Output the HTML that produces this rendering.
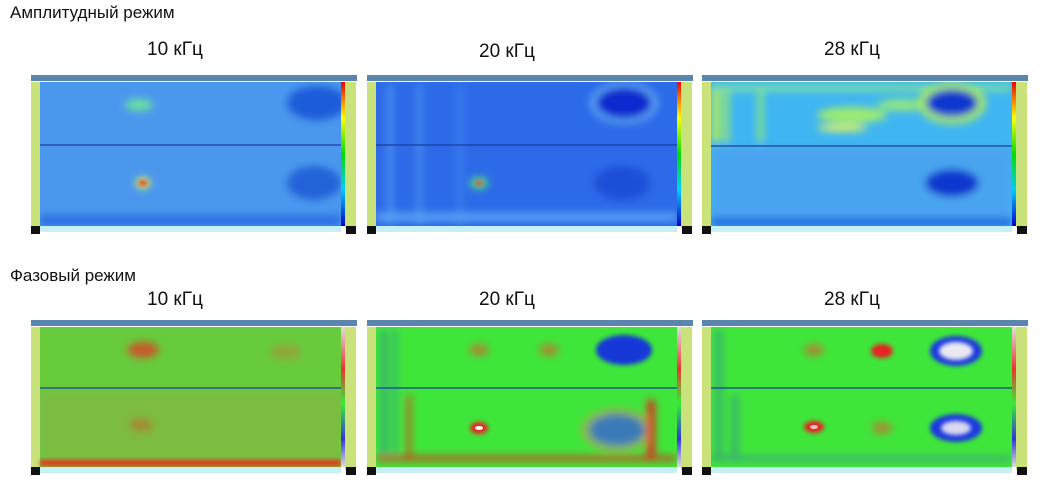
<!DOCTYPE html>
<html><head><meta charset="utf-8"><style>
body{margin:0;width:1040px;height:482px;background:#fff;position:relative;overflow:hidden;font-family:"Liberation Sans",sans-serif}
.t{position:absolute;font-size:17px;color:#111}
.l{position:absolute;font-size:19px;color:#111}
svg.p{position:absolute}
</style></head><body>
<svg width="0" height="0" style="position:absolute"><defs>
<filter id="b4" x="-50%" y="-50%" width="200%" height="200%"><feGaussianBlur stdDeviation="4"/></filter>
<filter id="b2" x="-50%" y="-50%" width="200%" height="200%"><feGaussianBlur stdDeviation="2"/></filter>
<clipPath id="cp"><rect x="9" y="7" width="301" height="144"/></clipPath>
<linearGradient id="cbA" x1="0" y1="0" x2="0" y2="1"><stop offset="0" stop-color="#e00"/><stop offset=".25" stop-color="#ff0"/><stop offset=".5" stop-color="#0d0"/><stop offset=".75" stop-color="#0cf"/><stop offset="1" stop-color="#00c"/></linearGradient>
<linearGradient id="cbP" x1="0" y1="0" x2="0" y2="1"><stop offset="0" stop-color="#ddd"/><stop offset=".3" stop-color="#e33"/><stop offset=".55" stop-color="#3e3"/><stop offset=".8" stop-color="#33d"/><stop offset="1" stop-color="#ddd"/></linearGradient>
</defs></svg>

<div class="t" style="left:10px;top:3px">Амплитудный режим</div>
<div class="l" style="left:147px;top:39px">10 кГц</div>
<div class="l" style="left:479px;top:41px">20 кГц</div>
<div class="l" style="left:824px;top:39px">28 кГц</div>
<div class="t" style="left:10px;top:266px">Фазовый режим</div>
<div class="l" style="left:147px;top:289px">10 кГц</div>
<div class="l" style="left:479px;top:289px">20 кГц</div>
<div class="l" style="left:824px;top:289px">28 кГц</div>

<!-- Amplitude 10 -->
<svg class="p" style="left:31px;top:75px" width="326" height="160">
<rect x="0" y="0" width="326" height="6" fill="#5a86ad"/>
<rect x="0" y="7" width="9" height="146" fill="#c9e27a"/>
<rect x="9" y="7" width="301" height="144" fill="#4a98ee"/>
<g filter="url(#b4)" clip-path="url(#cp)">
<rect x="9" y="140" width="301" height="11" fill="#2a6ee4"/>
<ellipse cx="286" cy="28" rx="30" ry="17" fill="#1d5cd8"/>
<ellipse cx="283" cy="108" rx="27" ry="17" fill="#2464d8"/>
<ellipse cx="108" cy="30" rx="14" ry="6" fill="#6ae0a0"/>
<ellipse cx="112" cy="108" rx="7" ry="5" fill="#ff3"/>
</g>
<ellipse cx="112" cy="108" rx="4" ry="2.5" fill="#e22" filter="url(#b2)"/>
<line x1="9" y1="70" x2="310" y2="70" stroke="#1a3f9a" stroke-width="1.2"/>
<rect x="310" y="7" width="4" height="144" fill="url(#cbA)"/>
<rect x="314" y="7" width="11" height="146" fill="#c9e27a"/>
<rect x="9" y="151" width="301" height="6" fill="#c7f0f4"/>
<rect x="0" y="151" width="9" height="8" fill="#111"/><rect x="315" y="151" width="10" height="8" fill="#111"/>
</svg>

<!-- Amplitude 20 -->
<svg class="p" style="left:367px;top:75px" width="326" height="160">
<rect x="0" y="0" width="326" height="6" fill="#5a86ad"/>
<rect x="0" y="7" width="9" height="146" fill="#c9e27a"/>
<rect x="9" y="7" width="301" height="144" fill="#2d6ae8"/>
<g filter="url(#b4)" clip-path="url(#cp)">
<rect x="20" y="10" width="6" height="140" fill="#4a90f0"/>
<rect x="50" y="10" width="5" height="140" fill="#4a90f0"/>
<rect x="90" y="10" width="5" height="140" fill="#3d80ee"/>
<rect x="9" y="138" width="301" height="8" fill="#5aa4f4"/>
<ellipse cx="257" cy="28" rx="34" ry="21" fill="#5aa8f4"/>
<ellipse cx="257" cy="28" rx="28" ry="16" fill="#0a2ad0"/>
<ellipse cx="255" cy="108" rx="28" ry="17" fill="#1f50d8"/>
<ellipse cx="112" cy="108" rx="9" ry="6" fill="#50e080"/>
</g>
<ellipse cx="112" cy="108" rx="4" ry="2.5" fill="#e44" filter="url(#b2)"/>
<line x1="9" y1="70" x2="310" y2="70" stroke="#1a3f9a" stroke-width="1.2"/>
<rect x="310" y="7" width="4" height="144" fill="url(#cbA)"/>
<rect x="314" y="7" width="11" height="146" fill="#c9e27a"/>
<rect x="9" y="151" width="301" height="6" fill="#c7f0f4"/>
<rect x="0" y="151" width="9" height="8" fill="#111"/><rect x="315" y="151" width="10" height="8" fill="#111"/>
</svg>

<!-- Amplitude 28 -->
<svg class="p" style="left:702px;top:75px" width="326" height="160">
<rect x="0" y="0" width="326" height="6" fill="#5a86ad"/>
<rect x="0" y="7" width="9" height="146" fill="#c9e27a"/>
<rect x="9" y="7" width="301" height="144" fill="#3fb6f2"/>
<g filter="url(#b4)" clip-path="url(#cp)">
<rect x="9" y="72" width="301" height="79" fill="#48a4f0"/>
<rect x="9" y="143" width="301" height="8" fill="#1a60e0"/>
<rect x="10" y="12" width="8" height="55" fill="#b8f050"/>
<rect x="22" y="12" width="5" height="55" fill="#a0ee60"/>
<rect x="56" y="12" width="5" height="55" fill="#90ec70"/>
<rect x="9" y="10" width="301" height="6" fill="#80e0a0"/>
<ellipse cx="140" cy="53" rx="25" ry="3" fill="#ff4"/>
<ellipse cx="150" cy="40" rx="35" ry="8" fill="#9cec70"/>
<ellipse cx="200" cy="30" rx="25" ry="6" fill="#90e880"/>
<ellipse cx="250" cy="28" rx="34" ry="21" fill="#a4ea60"/>
<ellipse cx="250" cy="28" rx="26" ry="14" fill="#1038d0"/>
<ellipse cx="250" cy="108" rx="27" ry="14" fill="#1038d0"/>
</g>
<line x1="9" y1="71" x2="310" y2="71" stroke="#1a3f9a" stroke-width="1.2"/>
<rect x="310" y="7" width="4" height="144" fill="url(#cbA)"/>
<rect x="314" y="7" width="11" height="146" fill="#c9e27a"/>
<rect x="9" y="151" width="301" height="6" fill="#c7f0f4"/>
<rect x="0" y="151" width="9" height="8" fill="#111"/><rect x="315" y="151" width="10" height="8" fill="#111"/>
</svg>

<!-- Phase 10 -->
<svg class="p" style="left:31px;top:320px" width="326" height="156">
<rect x="0" y="0" width="326" height="6" fill="#5a86ad"/>
<rect x="0" y="7" width="9" height="143" fill="#c9e27a"/>
<rect x="9" y="7" width="301" height="140" fill="#66cc3c"/>
<g filter="url(#b4)" clip-path="url(#cp)">
<rect x="9" y="72" width="301" height="70" fill="#7cbc40"/>
<ellipse cx="112" cy="30" rx="16" ry="8" fill="#c85a2a"/>
<ellipse cx="255" cy="32" rx="16" ry="8" fill="#90a838"/>
<ellipse cx="110" cy="105" rx="12" ry="7" fill="#a08a30"/>
</g>
<rect x="9" y="140" width="301" height="6" fill="#e8301c" filter="url(#b2)"/>
<line x1="9" y1="68" x2="310" y2="68" stroke="#1a3f9a" stroke-width="1.2"/>
<rect x="310" y="7" width="4" height="140" fill="url(#cbP)"/>
<rect x="314" y="7" width="11" height="143" fill="#c9e27a"/>
<rect x="9" y="147" width="301" height="6" fill="#c7f0f4"/>
<rect x="0" y="147" width="9" height="8" fill="#111"/><rect x="315" y="147" width="10" height="8" fill="#111"/>
</svg>

<!-- Phase 20 -->
<svg class="p" style="left:367px;top:320px" width="326" height="156">
<rect x="0" y="0" width="326" height="6" fill="#5a86ad"/>
<rect x="0" y="7" width="9" height="143" fill="#c9e27a"/>
<rect x="9" y="7" width="301" height="140" fill="#3ee63a"/>
<g filter="url(#b4)" clip-path="url(#cp)">
<rect x="14" y="10" width="6" height="130" fill="#3aa878"/>
<rect x="26" y="10" width="4" height="130" fill="#3aa878"/>
<rect x="40" y="75" width="4" height="65" fill="#d84a20"/>
<ellipse cx="112" cy="30" rx="10" ry="6" fill="#a88a30"/>
<ellipse cx="182" cy="30" rx="10" ry="6" fill="#a88a30"/>
<ellipse cx="250" cy="110" rx="36" ry="22" fill="#90b848"/>
<ellipse cx="250" cy="110" rx="28" ry="16" fill="#3a7ab8"/>
<rect x="280" y="80" width="8" height="60" fill="#e02a20"/>
<rect x="9" y="136" width="300" height="5" fill="#d04020"/>
</g>
<ellipse cx="257" cy="30" rx="28" ry="15" fill="#1238d8" filter="url(#b2)"/>
<ellipse cx="112" cy="108" rx="9" ry="6" fill="#e82020" filter="url(#b2)"/>
<ellipse cx="112" cy="108" rx="4" ry="2" fill="#fff"/>
<line x1="9" y1="68" x2="310" y2="68" stroke="#1a3f9a" stroke-width="1.2"/>
<rect x="310" y="7" width="4" height="140" fill="url(#cbP)"/>
<rect x="314" y="7" width="11" height="143" fill="#c9e27a"/>
<rect x="9" y="147" width="301" height="6" fill="#c7f0f4"/>
<rect x="0" y="147" width="9" height="8" fill="#111"/><rect x="315" y="147" width="10" height="8" fill="#111"/>
</svg>

<!-- Phase 28 -->
<svg class="p" style="left:702px;top:320px" width="326" height="156">
<rect x="0" y="0" width="326" height="6" fill="#5a86ad"/>
<rect x="0" y="7" width="9" height="143" fill="#c9e27a"/>
<rect x="9" y="7" width="301" height="140" fill="#3ee63a"/>
<g filter="url(#b4)" clip-path="url(#cp)">
<rect x="14" y="10" width="6" height="130" fill="#3aa878"/>
<rect x="30" y="75" width="6" height="65" fill="#3aa878"/>
<ellipse cx="112" cy="30" rx="10" ry="6" fill="#a88a30"/>
<ellipse cx="180" cy="108" rx="10" ry="6" fill="#a88a30"/>
<rect x="9" y="136" width="300" height="5" fill="#3aa878"/>
</g>
<ellipse cx="180" cy="31" rx="11" ry="7" fill="#e82020" filter="url(#b2)"/>
<ellipse cx="112" cy="107" rx="10" ry="6" fill="#e82020" filter="url(#b2)"/>
<ellipse cx="112" cy="107" rx="4" ry="2" fill="#f4c0c0"/>
<ellipse cx="254" cy="31" rx="26" ry="15" fill="#1a38e0" filter="url(#b2)"/>
<ellipse cx="254" cy="31" rx="17" ry="9" fill="#e8e8f0" filter="url(#b2)"/>
<ellipse cx="254" cy="108" rx="26" ry="14" fill="#1a38e0" filter="url(#b2)"/>
<ellipse cx="254" cy="108" rx="15" ry="7" fill="#d8d8f0" filter="url(#b2)"/>
<line x1="9" y1="68" x2="310" y2="68" stroke="#1a3f9a" stroke-width="1.2"/>
<rect x="310" y="7" width="4" height="140" fill="url(#cbP)"/>
<rect x="314" y="7" width="11" height="143" fill="#c9e27a"/>
<rect x="9" y="147" width="301" height="6" fill="#c7f0f4"/>
<rect x="0" y="147" width="9" height="8" fill="#111"/><rect x="315" y="147" width="10" height="8" fill="#111"/>
</svg>
</body></html>
